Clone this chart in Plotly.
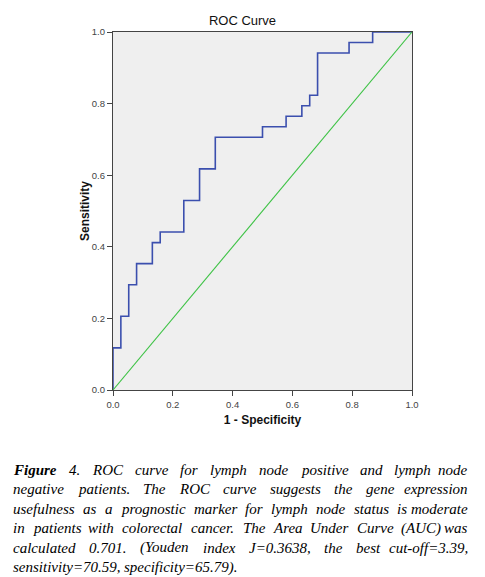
import plotly.graph_objects as go

# ROC curve data (1 - specificity, sensitivity)
fpr = [0.0, 0.0, 0.0263, 0.0263, 0.0526, 0.0526, 0.0789, 0.0789, 0.1316, 0.1316,
       0.1579, 0.1579, 0.2368, 0.2368, 0.2895, 0.2895, 0.3421, 0.3421, 0.5, 0.5,
       0.5789, 0.5789, 0.6316, 0.6316, 0.6579, 0.6579, 0.6842, 0.6842, 0.7895, 0.7895,
       0.8684, 0.8684, 1.0]
tpr = [0.0, 0.1176, 0.1176, 0.2059, 0.2059, 0.2941, 0.2941, 0.3529, 0.3529, 0.4118,
       0.4118, 0.4412, 0.4412, 0.5294, 0.5294, 0.6176, 0.6176, 0.7059, 0.7059, 0.7353,
       0.7353, 0.7647, 0.7647, 0.7941, 0.7941, 0.8235, 0.8235, 0.9412, 0.9412, 0.9706,
       0.9706, 1.0, 1.0]
ref_x = [0.0, 1.0]
ref_y = [0.0, 1.0]
tick_vals = [0.0, 0.2, 0.4, 0.6, 0.8, 1.0]

title_text = "ROC Curve"
x_title = "1 - Specificity"
y_title = "Sensitivity"

caption_lines = [
    "Figure 4. ROC curve for lymph node positive and lymph node",
    "negative patients. The ROC curve suggests the gene expression",
    "usefulness as a prognostic marker for lymph node status is moderate",
    "in patients with colorectal cancer. The Area Under Curve (AUC) was",
    "calculated 0.701. (Youden index J=0.3638, the best cut-off=3.39,",
    "sensitivity=70.59, specificity=65.79).",
]

# page body has an 8px default margin; compensate
OFF = 8
W, H = 485 - OFF, 577 - OFF
L, R, T, B = 113 - OFF, 412.5 - OFF, 32 - OFF, 390 - OFF

fig = go.Figure()
fig.add_trace(go.Scatter(x=fpr, y=tpr, mode="lines",
                         line=dict(color="#3b4fae", width=1.6),
                         hoverinfo="skip", showlegend=False))
fig.add_trace(go.Scatter(x=ref_x, y=ref_y, mode="lines",
                         line=dict(color="#3cc244", width=1.1),
                         hoverinfo="skip", showlegend=False))

tickfont = dict(family="Liberation Sans Narrow, Arial Narrow, Liberation Sans, Arial", size=9.5, color="#444")
axis_common = dict(range=[0, 1], tickvals=tick_vals, tickformat=".1f",
                   showgrid=False, zeroline=False, showline=True, mirror=True,
                   linecolor="#444", linewidth=1.3, ticks="outside", ticklen=5,
                   tickcolor="#444", tickwidth=1, tickfont=tickfont, fixedrange=True)

fig.update_xaxes(**axis_common,
                 title=dict(text="<b>" + x_title + "</b>", standoff=7,
                            font=dict(family="Liberation Sans, Arial", size=12, color="#111")))
fig.update_yaxes(**axis_common)


def px2paper_x(px):
    return (px - L) / (R - L)


def px2paper_y(py):
    return (B - py) / (B - T)


annotations = [dict(x=px2paper_x(85 - OFF), y=0.5, xref="paper", yref="paper",
                    xanchor="center", yanchor="middle", textangle=-90,
                    text="<b>" + y_title + "</b>", showarrow=False,
                    font=dict(family="Liberation Sans, Arial", size=12, color="#111"))]

# Caption: justified lines via per-word placement
widths_it = {' ': 250, 'a': 500, 'b': 500, 'c': 444, 'd': 500, 'e': 444, 'f': 278, 'g': 500,
             'h': 500, 'i': 278, 'j': 278, 'k': 444, 'l': 278, 'm': 722, 'n': 500, 'o': 500,
             'p': 500, 'q': 500, 'r': 389, 's': 389, 't': 278, 'u': 500, 'v': 444, 'w': 667,
             'x': 444, 'y': 444, 'z': 389, 'A': 611, 'B': 611, 'C': 667, 'D': 722, 'E': 611,
             'F': 611, 'G': 722, 'H': 722, 'I': 333, 'J': 444, 'K': 667, 'L': 556, 'M': 833,
             'N': 667, 'O': 722, 'P': 611, 'Q': 722, 'R': 611, 'S': 500, 'T': 556, 'U': 722,
             'V': 611, 'W': 833, 'X': 611, 'Y': 556, 'Z': 556, '.': 250, ',': 250, '=': 675,
             '(': 333, ')': 333, '-': 333}
for d in '0123456789':
    widths_it[d] = 500

FS = 15


def text_w(s, bold=False):
    w = sum(widths_it.get(c, 500) for c in s) * FS / 1000.0
    if bold:
        w *= 1.06
    return w


left_px, right_px = 11 - OFF, 471 - OFF
line_y = [v - OFF for v in [469.5, 489, 508.8, 528.4, 547.8, 567]]
serif = "Liberation Serif, Times New Roman, serif"
for i, line in enumerate(caption_lines):
    words = line.split(" ")
    justify = i < len(caption_lines) - 1
    bolds = [(i == 0 and j == 0) for j in range(len(words))]
    ws = [text_w(w, b) for w, b in zip(words, bolds)]
    if justify:
        gap = (right_px - left_px - sum(ws)) / (len(words) - 1)
    else:
        gap = 250 * FS / 1000.0
    x = left_px
    for j, (wd, wwid, b) in enumerate(zip(words, ws, bolds)):
        txt = "<i><b>" + wd + "</b></i>" if b else "<i>" + wd + "</i>"
        last = justify and j == len(words) - 1
        annotations.append(dict(x=px2paper_x(right_px if last else x), y=px2paper_y(line_y[i]),
                                xref="paper", yref="paper",
                                xanchor="right" if last else "left", yanchor="middle",
                                text=txt, showarrow=False,
                                font=dict(family=serif, size=FS, color="#000")))
        x += wwid + gap

fig.update_layout(
    width=W, height=H,
    margin=dict(l=L, r=W - R, t=T, b=H - B, pad=0),
    paper_bgcolor="white", plot_bgcolor="#efefef",
    title=dict(text=title_text, x=(485 / 2 - OFF) / W, xref="container", xanchor="center",
               y=1 - (20 - OFF) / H, yref="container", yanchor="middle",
               font=dict(family="Liberation Sans, Arial", size=13, color="#111")),
    annotations=annotations,
    showlegend=False,
)

fig.write_html("out.html")
